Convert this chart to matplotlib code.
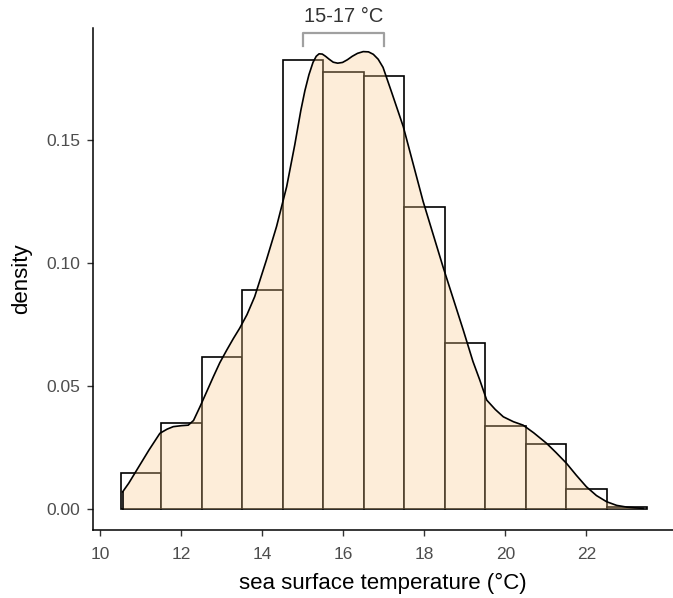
import numpy as np
import matplotlib
matplotlib.use('Agg')
import matplotlib.pyplot as plt

plt.rcParams['font.family'] = ['Liberation Sans', 'DejaVu Sans']

# histogram bins (width 1) and densities
bin_edges = [10.5, 11.5, 12.5, 13.5, 14.5, 15.5, 16.5, 17.5, 18.5, 19.5, 20.5, 21.5, 22.5, 23.5]
bin_density = [0.0148, 0.0351, 0.0619, 0.0890, 0.1825, 0.1775, 0.1760,
               0.1229, 0.0674, 0.0337, 0.0264, 0.0081, 0.0008]

# density curve
kde_x = [10.55, 10.7, 10.9, 11.2, 11.47, 11.65, 11.8, 12.0, 12.17, 12.3, 12.46,
         12.62, 12.79, 12.95, 13.12, 13.28, 13.44, 13.62, 13.81, 14.1, 14.35,
         14.6, 14.8, 14.95, 15.05, 15.15, 15.25, 15.33, 15.4, 15.48, 15.56,
         15.65, 15.75, 15.86, 15.98, 16.1, 16.22, 16.35, 16.49, 16.62, 16.74,
         16.86, 16.98, 17.2, 17.48, 17.97, 18.46, 18.96, 19.2, 19.37, 19.54,
         19.75, 19.95, 20.2, 20.44, 20.7, 21.02, 21.25, 21.51, 21.75, 22.0,
         22.25, 22.5, 22.75, 23.0, 23.2, 23.4]
kde_y = [0.0070, 0.0105, 0.0159, 0.0240, 0.0308, 0.0325, 0.0335, 0.0339, 0.0341,
         0.0360, 0.0416, 0.0475, 0.0538, 0.0595, 0.0646, 0.0692, 0.0735, 0.0790,
         0.0863, 0.1012, 0.1148, 0.1310, 0.1480, 0.1620, 0.1700, 0.1765, 0.1815,
         0.1840, 0.1850, 0.1849, 0.1840, 0.1828, 0.1816, 0.1812, 0.1815, 0.1826,
         0.1840, 0.1852, 0.1859, 0.1858, 0.1848, 0.1828, 0.1795, 0.1690, 0.1554,
         0.1250, 0.0985, 0.0728, 0.0600, 0.0524, 0.0443, 0.0405, 0.0375, 0.0355,
         0.0341, 0.0310, 0.0267, 0.0230, 0.0186, 0.0138, 0.0091, 0.0055, 0.0030,
         0.0015, 0.0008, 0.0005, 0.0003]

fig = plt.figure(figsize=(6.73, 5.98), dpi=100)
ax = fig.add_axes([0.138, 0.1137, 0.862, 0.8395])

widths = np.diff(bin_edges)
ax.bar(bin_edges[:-1], bin_density, width=widths, align='edge',
       facecolor='white', edgecolor='black', linewidth=1.2, zorder=2)

ax.fill_between(kde_x, 0, kde_y, facecolor='#F9C98A', alpha=0.32,
                linewidth=0, zorder=3)
ax.plot(kde_x, kde_y, color='black', linewidth=1.2, zorder=4)
ax.plot([kde_x[0], kde_x[0]], [0, kde_y[0]], color='black', linewidth=1.2, zorder=4)

# bracket annotation
ax.plot([15, 15, 17, 17], [0.1880, 0.1936, 0.1936, 0.1880], color='#a0a0a0',
        linewidth=1.6, clip_on=False, zorder=5)
ax.text(16, 0.1962, '15-17 °C', ha='center', va='bottom', fontsize=14.5,
        color='#333333', clip_on=False)

ax.set_xlim(9.815, 24.14)
ax.set_ylim(-0.0085, 0.1955)
ax.set_xticks([10, 12, 14, 16, 18, 20, 22])
ax.set_yticks([0.00, 0.05, 0.10, 0.15])
ax.set_yticklabels(['0.00', '0.05', '0.10', '0.15'])

for s in ['top', 'right']:
    ax.spines[s].set_visible(False)
for s in ['left', 'bottom']:
    ax.spines[s].set_linewidth(1.1)
    ax.spines[s].set_color('black')
ax.tick_params(axis='both', length=4, width=1.0, color='#333333',
               labelsize=12.5, labelcolor='#4d4d4d', pad=5)
ax.tick_params(axis='x', pad=8)

ax.set_xlabel('sea surface temperature (°C)', fontsize=16, labelpad=8)
ax.set_ylabel('density', fontsize=16, labelpad=10)

fig.savefig('out.png', dpi=100)
